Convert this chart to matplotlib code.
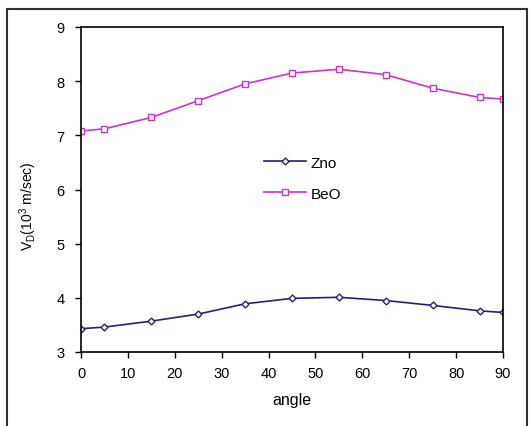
import numpy as np
import matplotlib.pyplot as plt
from matplotlib.patches import Rectangle

plt.rcParams['font.family'] = ['Liberation Sans', 'DejaVu Sans']

# angle values and velocities (10^3 m/sec)
angle = [0, 5, 15, 25, 35, 45, 55, 65, 75, 85, 90]
zno = [3.43, 3.46, 3.57, 3.70, 3.89, 3.99, 4.01, 3.95, 3.86, 3.76, 3.73]
beo = [7.08, 7.12, 7.33, 7.64, 7.95, 8.15, 8.22, 8.12, 7.87, 7.70, 7.67]

fig = plt.figure(figsize=(5.31, 4.27), dpi=100)
ax = fig.add_axes([81/531, 1 - 353/427, (503-81)/531, (353-28)/427])

ax.plot(angle, zno, color='#23236e', lw=1.2, marker='D', ms=3.5,
        mfc='white', mec='#23236e', mew=1, label='Zno')
ax.plot(angle, beo, color='#cc33cc', lw=1.2, marker='s', ms=4,
        mfc='white', mec='#cc33cc', mew=1, label='BeO')

ax.set_xlim(0, 90)
ax.set_ylim(3, 9)
ax.set_xticks(range(0, 91, 10))
ax.set_yticks(range(3, 10))
ax.tick_params(direction='out', length=4, labelsize=10.5, width=1)
ax.tick_params(axis='y', pad=8)
ax.tick_params(axis='x', pad=6)
for s in ax.spines.values():
    s.set_linewidth(1.2)

ax.set_xlabel('angle', fontsize=11.5, labelpad=9)
ax.set_ylabel(r'V$_\mathregular{D}$(10$^\mathregular{3}$ m/sec)', fontsize=10)
ax.yaxis.set_label_coords(-0.1, 0.45)

ax.legend(loc='center', bbox_to_anchor=(0.525, 0.535), frameon=False, fontsize=11,
          handlelength=2.8, handletextpad=0.3, labelspacing=1.1)

# outer frame around the chart
fig.patches.append(Rectangle((7/531, -0.01), (527-7)/531, 1 - 10/427 + 0.01,
                             transform=fig.transFigure, fill=False,
                             edgecolor='#333333', lw=1.5))

fig.savefig('out.png', dpi=100)
